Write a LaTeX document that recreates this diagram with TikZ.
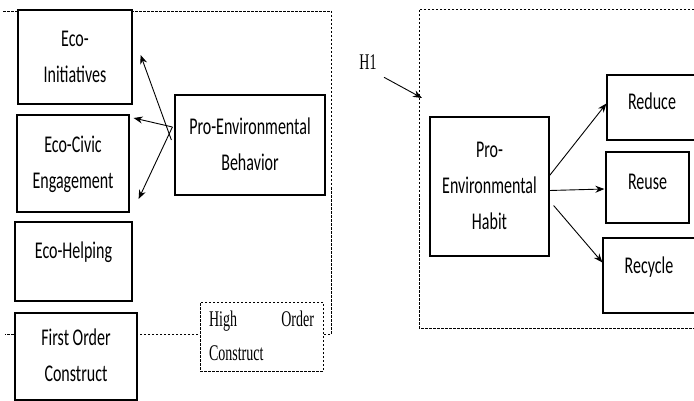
\documentclass[tikz,border=0pt]{standalone}
\usepackage{fontspec}
\setmainfont{Carlito}
\newfontfamily\hoserif{Liberation Serif}
\usepackage{graphicx}
\usetikzlibrary{arrows.meta, positioning}

% tall (vertically stretched) text, as in the scanned figure
\newcommand{\tall}[1]{\scalebox{1}[1.5]{\begin{tabular}{@{}c@{}}#1\end{tabular}}}
\newcommand{\tallserif}[1]{\scalebox{1}[1.6]{\begin{tabular}{@{}l@{}}#1\end{tabular}}}

\begin{document}
\begin{tikzpicture}[
        x=1pt, y=-1pt,
        box/.style={rectangle, draw, fill=white, line width=1.2pt, inner sep=0pt,
                    font=\fontsize{16}{24}\selectfont},
        frame/.style={dash pattern=on 2.5pt off 1.5pt, line width=0.7pt},
        arr/.style={-{Stealth[length=9pt, width=7pt]}, line width=0.9pt},
    ]
    \useasboundingbox (0,0) rectangle (694,401);

    % left: higher order construct
    \draw[frame] (3,11) -- (331,11) -- (331,334) -- (5,334);
    \node[box, minimum width=114pt, minimum height=94pt] (ini)   at (75,57)      {\tall{Eco-\\Initiatives}};
    \node[box, minimum width=112pt, minimum height=97pt] (civic) at (73,163.5)   {\tall{Eco-Civic\\Engagement}};
    \node[box, minimum width=117pt, minimum height=79pt, text depth=32pt] (help) at (73.5,261.5) {\tall{Eco-Helping}};
    \node[box, minimum width=122pt, minimum height=87pt] (first) at (76,356.5)   {\tall{First Order\\Construct}};
    \node[box, minimum width=150pt, minimum height=100pt] (peb)  at (250,145)    {\tall{Pro-Environmental\\Behavior}};
    \node[box, frame, line width=0.7pt, minimum width=123pt, minimum height=69pt,
          inner xsep=8pt, align=left, font=\hoserif\fontsize{14}{21}\selectfont] (hoc) at (261.5,336.5)
          {\tallserif{\makebox[105pt][s]{High Order}\\Construct}};
    \draw[arr] ([shift={(-3,-5)}]peb.west) -- ([shift={(8,-2)}]ini.east);
    \draw[arr] ([shift={(-2,-18)}]peb.west) -- ([shift={(4,-45.5)}]civic.east);
    \draw[arr] ([shift={(-2,-18)}]peb.west) -- ([shift={(9,35.5)}]civic.east);

    % right: pro-environmental habit
    \draw[frame] (694,9) -- (419,9) -- (419,328) -- (694,328);
    \node[font=\hoserif\fontsize{14}{21}\selectfont] (h1) at (368,63) {\tallserif{H1}};
    \coordinate (h1end) at (422,98);
    \draw[arr] ([shift={(4,-6)}]h1.south east) -- (h1end);
    \node[box, minimum width=119pt, minimum height=139pt] (peh) at (489.5,186.5) {\tall{Pro-\\Environmental\\Habit}};
    \node[box, minimum width=90pt, minimum height=65pt, text depth=21pt] (reduce)  at (652,107.5) {\tall{Reduce}};
    \node[box, minimum width=83pt, minimum height=71pt, text depth=22pt] (reuse)   at (647.5,187.5) {\tall{Reuse}};
    \node[box, minimum width=92pt, minimum height=75pt, text depth=29pt] (recycle) at (649,275.5) {\tall{Recycle}};
    \draw[arr] ([yshift=11pt]peh.east) -- ([yshift=4pt]reduce.west);
    \draw[arr] ([yshift=-4pt]peh.east) -- ([shift={(-1,1.5)}]reuse.west);
    \draw[arr] ([shift={(4,19)}]peh.east) -- ([yshift=13pt]recycle.west);
\end{tikzpicture}
\end{document}
